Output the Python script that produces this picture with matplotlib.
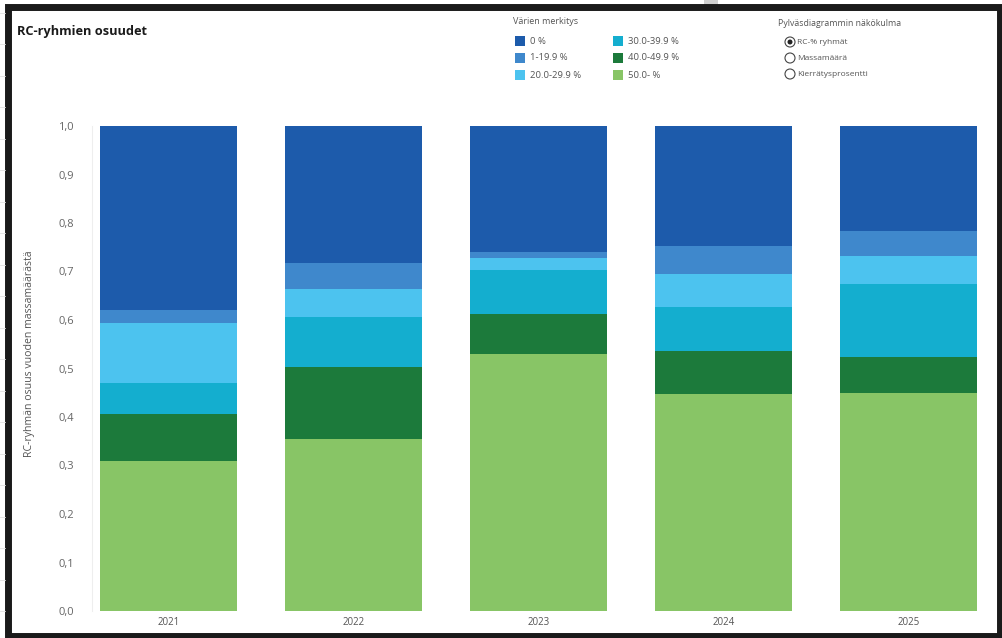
import matplotlib.pyplot as plt
import matplotlib.patches as mpatches
import numpy as np

plt.rcParams['font.family'] = ['Open Sans', 'DejaVu Sans']

# Osuudet vuosittain, alimmasta kerroksesta ylimpään
years = ['2021', '2022', '2023', '2024', '2025']
share_50 = [0.309, 0.355, 0.530, 0.447, 0.449]
share_40 = [0.097, 0.148, 0.082, 0.089, 0.075]
share_30 = [0.064, 0.103, 0.091, 0.091, 0.150]
share_20 = [0.124, 0.058, 0.025, 0.068, 0.058]
share_1 = [0.027, 0.054, 0.012, 0.058, 0.052]
share_0 = [0.379, 0.282, 0.260, 0.247, 0.216]

group_labels = ['0 %', '1-19.9 %', '20.0-29.9 %', '30.0-39.9 %', '40.0-49.9 %', '50.0- %']
view_options = ['RC-% ryhmät', 'Massamäärä', 'Kierrätysprosentti']
yticks = [0.0, 0.1, 0.2, 0.3, 0.4, 0.5, 0.6, 0.7, 0.8, 0.9, 1.0]

colors = {
    '0 %': '#1d5bab',
    '1-19.9 %': '#3f88cc',
    '20.0-29.9 %': '#4cc3ef',
    '30.0-39.9 %': '#14aecf',
    '40.0-49.9 %': '#1c7a3b',
    '50.0- %': '#88c566',
}

W, H = 1003, 638
fig = plt.figure(figsize=(W / 100, H / 100), dpi=100)
fig.patch.set_facecolor('white')

# pikselikoordinaatteihin piirrettävä tausta-akseli (kehys, selitteet)
bg = fig.add_axes([0, 0, 1, 1])
bg.set_xlim(0, W)
bg.set_ylim(H, 0)
bg.axis('off')

# taustalla näkyvä taulukon ruudukko
for yy in np.arange(12.5, H, 31.5):
    bg.plot([0, 5], [yy, yy], color='#e0e0e0', lw=0.6)
bg.add_patch(mpatches.Rectangle((704, 0), 14, 9, color='#d0d0d0', lw=0))

# musta kehys
bg.add_patch(mpatches.Rectangle((8.5, 7), 991.5, 628.5, fill=False,
                                edgecolor='#1a1a1a', lw=5.0))

# otsikko
bg.text(17, 32, 'RC-ryhmien osuudet', fontsize=9.2, fontweight='bold',
        color='#1a1a1a', va='center', ha='left')

# värien selite
txt_col = '#555555'
bg.text(513, 22, 'Värien merkitys', fontsize=6.5, color=txt_col, va='center')
rows_y = [41, 58, 75]
for i, lab in enumerate(group_labels):
    col_x = 515 if i < 3 else 613
    yy = rows_y[i % 3]
    bg.add_patch(mpatches.Rectangle((col_x, yy - 5), 10, 10, color=colors[lab], lw=0))
    bg.text(col_x + 15, yy, lab, fontsize=6.8, color=txt_col, va='center')

# näkökulman valinta
bg.text(778, 23, 'Pylväsdiagrammin näkökulma', fontsize=6.3, color=txt_col, va='center')
for i, lab in enumerate(view_options):
    yy = [42, 58, 74][i]
    bg.add_patch(mpatches.Circle((790, yy), 5, facecolor='white',
                                 edgecolor='#444444', lw=0.8))
    if i == 0:
        bg.add_patch(mpatches.Circle((790, yy), 2.5, color='#222222', lw=0))
    bg.text(797, yy, lab, fontsize=6.0, color=txt_col, va='center')

# pinotut pylväät
ax_l, ax_r, ax_b, ax_t = 92, 990, 611, 126
ax = fig.add_axes([ax_l / W, (H - ax_b) / H, (ax_r - ax_l) / W, (ax_b - ax_t) / H])
ax.patch.set_alpha(0)

x = np.arange(len(years))
layers = [share_50, share_40, share_30, share_20, share_1, share_0]
names = ['50.0- %', '40.0-49.9 %', '30.0-39.9 %', '20.0-29.9 %', '1-19.9 %', '0 %']
bottom = np.zeros(len(years))
for vals, name in zip(layers, names):
    ax.bar(x, vals, width=0.74, bottom=bottom, color=colors[name], linewidth=0)
    bottom += np.array(vals)

ax.set_xlim(-76.5 / 185, (ax_r - ax_l - 76.5) / 185)
ax.set_ylim(0, 1.0)
ax.set_yticks(yticks)
ax.set_yticklabels([f'{v:.1f}'.replace('.', ',') for v in yticks],
                   fontsize=8, color='#666666')
ax.set_xticks(x)
ax.set_xticklabels(years, fontsize=7, color='#555555')
ax.tick_params(axis='y', length=0, pad=13)
ax.tick_params(axis='x', length=0, pad=4)
for side in ['top', 'right', 'bottom']:
    ax.spines[side].set_visible(False)
ax.spines['left'].set_color('#eeeeee')
ax.spines['left'].set_linewidth(0.8)

fig.text(30 / W, (H - 354) / H, 'RC-ryhmän osuus vuoden massamäärästä',
         rotation=90, fontsize=7.6, color='#555555', va='center', ha='center')

fig.savefig('out.png', dpi=100)
